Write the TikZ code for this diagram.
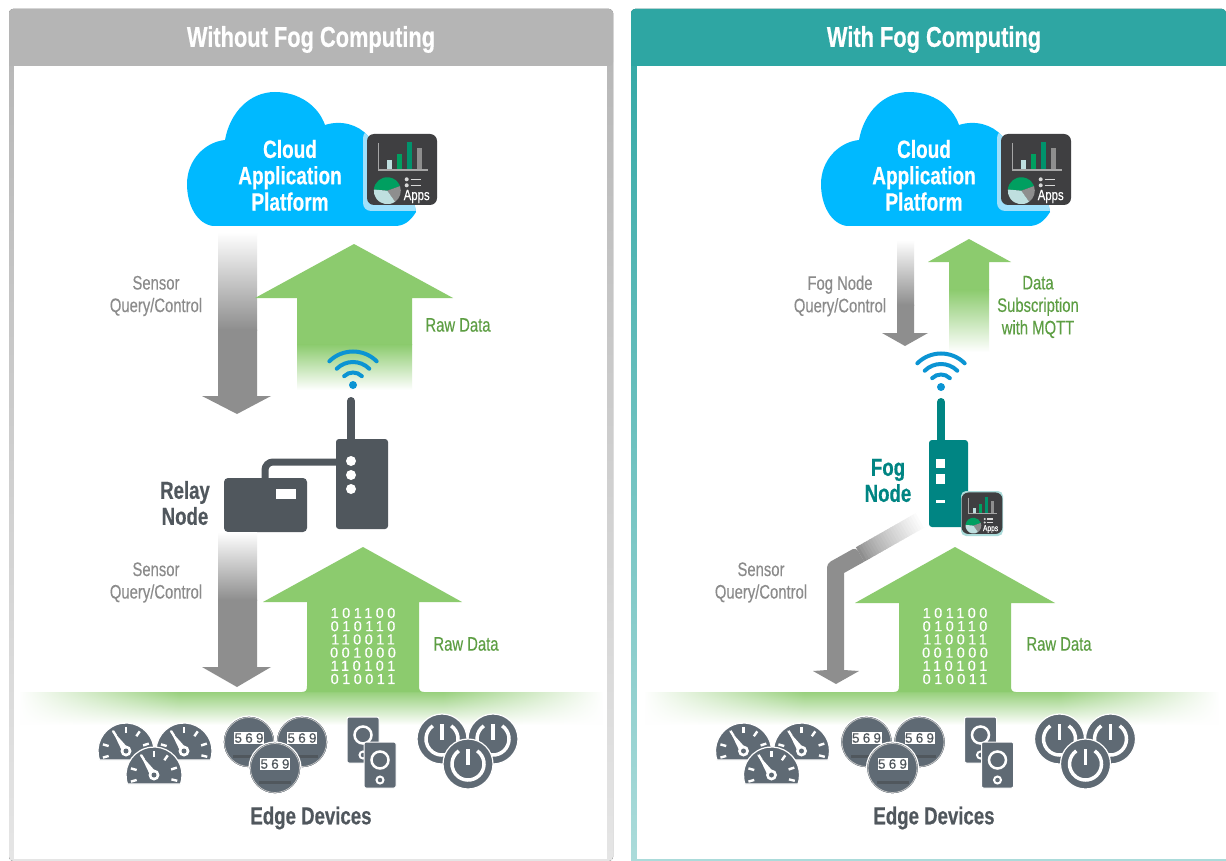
\documentclass[tikz,border=0pt]{standalone}
\usepackage{fontspec}
\setmainfont[FakeStretch=0.76,FakeBold=0.25,BoldFeatures={FakeBold=0.5}]{Liberation Sans}
\newfontfamily\bitfont[LetterSpace=24,FakeBold=0.3]{Liberation Sans}
\usetikzlibrary{fadings}

\definecolor{headgrey}{HTML}{B5B5B5}
\definecolor{headteal}{HTML}{2EA6A3}
\definecolor{cloudblue}{HTML}{00B9FF}
\definecolor{halo}{HTML}{9FE0FB}
\definecolor{appsdark}{HTML}{3F3F41}
\definecolor{arrowgrey}{HTML}{8E8E8E}
\definecolor{arrowgreen}{HTML}{8CCB6E}
\definecolor{textgreen}{HTML}{5D9E43}
\definecolor{textgrey}{HTML}{8B8B8B}
\definecolor{wifiblue}{HTML}{0B94D3}
\definecolor{relaydark}{HTML}{50575D}
\definecolor{fogteal}{HTML}{008583}
\definecolor{devgrey}{HTML}{5F6A74}

\tikzset{
  headtext/.style={white,font=\bfseries\fontsize{28.7}{30}\selectfont},
  cloudtext/.style={white,align=center,inner sep=0,font=\bfseries\fontsize{25}{26.3}\selectfont},
  greytext/.style={textgrey,align=center,inner sep=0,font=\fontsize{19.5}{22.5}\selectfont},
  greentext/.style={textgreen,align=center,inner sep=0,font=\fontsize{19.5}{22.5}\selectfont},
  darktext/.style={relaydark,align=center,inner sep=0,font=\bfseries\fontsize{24.5}{26}\selectfont},
  bittext/.style={white,align=center,inner sep=0,font=\bitfont\fontsize{14.5}{13.2}\selectfont},
  fadegrey/.style={top color=white,bottom color=arrowgrey},
  fadegreen/.style={top color=arrowgreen,bottom color=white},
  appsicon/.pic={
    \fill[appsdark,rounded corners=7] (-35,-36) rectangle (35,35);
    \foreach \xa/\xb/\ytop/\barcol in {-15.3/-9.7/-10/teal!25,-5.3/.3/-16/teal!75!green,4.7/10.3/-28/teal!85!green,14.7/20.3/-22/arrowgrey}
      \fill[\barcol] (\xa,\ytop) rectangle (\xb,-.7);
    \draw[gray!70,line width=1.2] (-23.7,-27) -- (-23.7,0) -- (26.3,0);
    \begin{scope}[shift={(-14.7,20.7)}]
      \fill[teal!75!green] (0,0) -- (185:13.5) arc (185:340:13.5) -- cycle;
      \fill[arrowgrey] (0,0) -- (340:13.5) arc (340:415:13.5) -- cycle;
      \fill[teal!25] (0,0) -- (55:13.5) arc (55:185:13.5) -- cycle;
    \end{scope}
    \foreach \y in {9.3,15.3} {
      \fill[gray!30] (4.7,\y) circle[radius=2];
      \draw[gray!30,line width=1.2] (8.7,\y) -- (18.7,\y);
    }
    \node[white,inner sep=0,transform shape,font=\fontsize{15}{15}\selectfont] (-label) at (14.7,26.5) {Apps};
  },
  cloudapp/.pic={
    \begin{scope}
      \clip (213,226) .. controls (197,224) and (187,205) .. (187,184) .. controls (187,160) and (205,142) .. (225,140)
        .. controls (230,112) and (250,92) .. (275,92) .. controls (298,92) and (318,105) .. (325,125)
        .. controls (340,120) and (358,124) .. (368,136) -- (410,180) -- (416,212)
        .. controls (410,222) and (403,226) .. (395,226) -- cycle;
      \fill[cloudblue] (180,85) rectangle (425,230);
      \fill[halo,rounded corners=8] (363,130) rectangle (440,211);
    \end{scope}
    \node[cloudtext] (-label) at (290,175.3) {Cloud\\Application\\Platform};
    \pic (-apps) at (402,170) {appsicon};
  },
  wifi/.pic={
    \fill[wifiblue] (0,0) circle[radius=4];
    \foreach \r in {12.5,23,33.5}
      \draw[wifiblue,line width=4,line cap=round] (225:\r) arc (225:315:\r);
  },
  gauge/.pic={
    \fill[devgrey,draw=white,line width=1.2] (161.2:28) arc (161.2:378.8:28) -- cycle;
    \foreach \a in {164,196,237,270,305,342,374}
      \draw[white,line width=2.4] (\a:18) -- (\a:24);
    \fill[white] (-14,-21) -- (3,-2) -- (-3,2) -- cycle;
    \fill[white] (0,0) circle[radius=5.5];
    \fill[devgrey] (0,0) circle[radius=2.5];
  },
  meter/.pic={
    \fill[devgrey,draw=white,line width=1.2] (0,0) circle[radius=26];
    \draw[gray!45,line width=.7] (0,0) circle[radius=24.5];
    \node[fill=white,inner sep=0,minimum width=30,minimum height=12,text=relaydark,font=\bitfont\fontsize{13.5}{13.5}\selectfont] (-dial) at (0,-4) {569};
    \fill[relaydark] (-16,12.5) rectangle (16,15.5);
  },
  speakerbox/.pic={
    \fill[devgrey,draw=white,line width=1,rounded corners=2] (-16,-23) rectangle (16,23);
    \draw[white,line width=2.5] (0,-5) circle[radius=8.5];
    \draw[white,line width=2] (0,15) circle[radius=3.5];
  },
  powerknob/.pic={
    \fill[devgrey,draw=white,line width=1.2] (0,0) circle[radius=25];
    \draw[white,line width=3.5] (305:16) arc (305:595:16);
    \draw[white,line width=3.5] (0,-15) -- (0,1);
  },
  edgeicons/.pic={
    \pic (-g1) at (126,751) {gauge};
    \pic (-g2) at (184,751) {gauge};
    \pic (-g3) at (154,775) {gauge};
    \pic (-m1) at (249,742) {meter};
    \pic (-m2) at (302,742) {meter};
    \pic (-m3) at (275,768) {meter};
    \pic (-s1) at (363,740) {speakerbox};
    \pic (-s2) at (380,765) {speakerbox};
    \pic (-p1) at (442,739) {powerknob};
    \pic (-p2) at (493,739) {powerknob};
    \pic (-p3) at (468,764) {powerknob};
  },
}

\begin{document}
\begin{tikzpicture}[x=1pt,y=-1pt]
   \useasboundingbox (0,0) rectangle (1226,861);

   % panels
   \fill[top color=headgrey,bottom color=headgrey!35,rounded corners=4] (9,861) -- (9,9) -- (613,9) -- (613,861) -- cycle;
   \fill[top color=headteal,bottom color=headteal!40,rounded corners=4] (631,861) -- (631,9) -- (1226,9) [sharp corners] -- (1226,861) -- cycle;
   \fill[headgrey,rounded corners=4] (9,66) -- (9,9) -- (613,9) -- (613,66) [sharp corners] -- cycle;
   \fill[headteal,rounded corners=4] (631,66) -- (631,9) -- (1226,9) [sharp corners] -- (1226,66) -- cycle;
   \fill[white] (14,66) rectangle (607,859);
   \fill[white] (637,66) rectangle (1226,859);
   \node[headtext] (headleft) at (311,39.5) {Without Fog Computing};
   \node[headtext] (headright) at (934,39.5) {With Fog Computing};

   % green bands
   \foreach \xa/\xb in {20/602,645/1218} {
     \fill[top color=arrowgreen!90,bottom color=white] (\xa,692) rectangle (\xb,725);
     \fill[white,path fading=east] (\xa-1,691) rectangle (\xa+160,729);
     \fill[white,path fading=west] (\xb-160,691) rectangle (\xb+1,729);
   }

   % without fog
   \pic (cloudleft) at (0,0) {cloudapp};
   \fill[fadegrey] (218,232) rectangle (257,330);
   \fill[arrowgrey] (218,329.5) -- (257,329.5) -- (257,396) -- (271,396) -- (237,414) -- (202,396) -- (218,396) -- cycle;
   \fill[arrowgreen] (354,244) -- (453,298) -- (412,298) -- (412,345) -- (297,345) -- (297,298) -- (255,298) -- cycle;
   \fill[fadegreen] (297,344.5) rectangle (412,390);
   \node[greytext] (queryup) at (156,296) {Sensor\\Query/Control};
   \node[greentext] (rawup) at (458,325) {Raw Data};
   \pic (wifileft) at (353,385) {wifi};
   \draw[relaydark,line width=8,line cap=round] (351,401) -- (351,445);
   \draw[relaydark,line width=7,rounded corners=8] (265,482) |- (340,462);
   \fill[relaydark,rounded corners=3] (336,439) rectangle (388,529);
   \foreach \y in {461,475,489}
     \fill[white] (351,\y) circle[radius=5];
   \fill[relaydark,rounded corners=4] (224,478) rectangle (307,532);
   \fill[white] (276,489) rectangle (296,499);
   \node[darktext] (relay) at (185,503) {Relay\\Node};
   \fill[fadegrey] (218,532) rectangle (257,600);
   \fill[arrowgrey] (218,599.5) -- (257,599.5) -- (257,667) -- (271,667) -- (237,687) -- (202,667) -- (218,667) -- cycle;
   \fill[arrowgreen] (363,547) -- (462,602) -- (419,602) -- (419,686) .. controls (419,690) and (420,692) .. (424,692)
     -- (302,692) .. controls (306,692) and (307,690) .. (307,686) -- (307,602) -- (263,602) -- cycle;
   \node[bittext] (bitsleft) at (363,646) {101100\\010110\\110011\\001000\\110101\\010011};
   \node[greytext] (querydown) at (156,582.5) {Sensor\\Query/Control};
   \node[greentext] (rawdown) at (466,644) {Raw Data};
   \pic (edgeleft) at (0,0) {edgeicons};
   \node[darktext] (edgelabel) at (311,818) {Edge Devices};

   % with fog
   \pic (cloudright) at (634,0) {cloudapp};
   \fill[fadegrey] (897,240) rectangle (914,305);
   \fill[arrowgrey] (897,304.5) -- (914,304.5) -- (914,333) -- (928,333) -- (905,346) -- (882,333) -- (897,333) -- cycle;
   \fill[arrowgreen] (969,239) -- (1011,262) -- (989,262) -- (989,290) -- (949,290) -- (949,262) -- (928,262) -- cycle;
   \fill[fadegreen] (949,289.5) rectangle (989,352);
   \node[greytext] (fogquery) at (840,296) {Fog Node\\Query/Control};
   \node[greentext] (mqtt) at (1038,307) {Data\\Subscription\\with MQTT};
   \pic (wifiright) at (941,387) {wifi};
   \draw[fogteal,line width=8,line cap=round] (941,402) -- (941,445);
   \fill[fogteal,rounded corners=3] (929,440) rectangle (968,527);
   \fill[white] (936,459) rectangle (945,468);
   \fill[white] (936,474) rectangle (945,484);
   \fill[white] (936,500) rectangle (945,503);
   \node[darktext,text=fogteal] (fog) at (888,480.5) {Fog\\Node};
   \fill[headteal!40,rounded corners=5] (961,491) rectangle (1003,536);
   \pic[scale=.585] (appsfog) at (982,513.5) {appsicon};
   \foreach \t in {0,...,23} {
     \pgfmathsetmacro{\xs}{860+2.6*\t}
     \pgfmathsetmacro{\ys}{554.5-1.48*\t}
     \pgfmathsetmacro{\xe}{860+2.6*(\t+1.4)}
     \pgfmathsetmacro{\ye}{554.5-1.48*(\t+1.4)}
     \pgfmathsetmacro{\shadepc}{100-100*(\t/23)^.8}
     \draw[arrowgrey!\shadepc!white,line width=16.6] (\xs,\ys) -- (\xe,\ye);
   }
   \fill[arrowgrey,rounded corners=4] (827,671) -- (827,563.5) -- (856,547.3) [sharp corners] -- (864.2,561.7) -- (844,573) -- (844,671) -- cycle;
   \fill[arrowgrey] (844,670) -- (859,671) -- (836,684) -- (813,671) -- (827,670) -- cycle;
   \fill[arrowgreen] (955,547) -- (1055,603) -- (1011,603) -- (1011,686) .. controls (1011,690) and (1012,692) .. (1016,692)
     -- (894,692) .. controls (898,692) and (899,690) .. (899,686) -- (899,603) -- (855,603) -- cycle;
   \node[bittext] (bitsright) at (955,646) {101100\\010110\\110011\\001000\\110101\\010011};
   \node[greytext] (queryfog) at (761,582.5) {Sensor\\Query/Control};
   \node[greentext] (rawfog) at (1059,644) {Raw Data};
   \pic (edgeright) at (617.5,0) {edgeicons};
   \node[darktext] (edgelabelright) at (934,818) {Edge Devices};
\end{tikzpicture}
\end{document}
